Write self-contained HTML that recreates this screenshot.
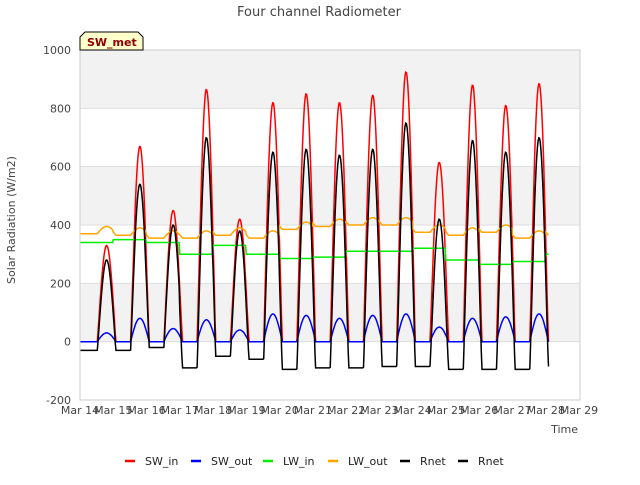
<!DOCTYPE html>
<html><head><meta charset="utf-8"><style>
body{margin:0;background:#fff;font-family:"Liberation Sans","DejaVu Sans",sans-serif}
</style></head><body>
<svg id="c" width="640" height="480" xmlns="http://www.w3.org/2000/svg" font-family="DejaVu Sans, Liberation Sans, sans-serif">
<text x="319" y="16" text-anchor="middle" font-size="13" fill="#444">Four channel Radiometer</text>
<g id="bands"></g>
<g id="grid"></g>
<g id="yt" font-size="11" fill="#444"></g>
<g id="xt" font-size="11" fill="#444"></g>
<g id="series"></g>
<rect x="80" y="50" width="500" height="350" fill="none" stroke="#ccc"/>
<text x="20" y="225" transform="rotate(-90 15 225)" text-anchor="middle" font-size="11" fill="#444">Solar Radiation (W/m2)</text>
<text x="578" y="433" text-anchor="end" font-size="11" fill="#444">Time</text>
<g><path d="M80,50 L80,37 L85,32 L138,32 L143,37 L143,50 Z" fill="#ffffcc" stroke="#000"/><text x="87" y="46" font-size="11" font-weight="bold" fill="#8b0000">SW_met</text></g>
<g id="legend" font-size="11" fill="#222"></g>
</svg>
<script>
const days=["Mar 14","Mar 15","Mar 16","Mar 17","Mar 18","Mar 19","Mar 20","Mar 21","Mar 22","Mar 23","Mar 24","Mar 25","Mar 26","Mar 27","Mar 28","Mar 29"];
const yTicks=[-200,0,200,400,600,800,1000];
const swInPeak=[330,670,450,865,420,820,850,820,845,925,615,880,810,885];
const swOutPeak=[30,80,45,75,40,95,90,80,90,95,50,80,85,95];
const lwInLevel=[340,350,340,300,330,300,285,290,310,310,320,280,265,275,300];
const lwOutLevel=[370,365,355,355,365,355,385,395,400,400,375,365,375,355,365];
const rnetPeak=[280,540,400,700,380,650,660,640,660,750,420,690,650,700];
const rnetNight=[-30,-30,-20,-90,-50,-60,-95,-90,-90,-85,-85,-95,-95,-95,-85];
const X=d=>80+d*(499/15), Y=v=>400-(v+200)*(350/1200);
const NS="http://www.w3.org/2000/svg";
function mk(tag,attrs,parent){const e=document.createElementNS(NS,tag);for(const k in attrs)e.setAttribute(k,attrs[k]);document.getElementById(parent).appendChild(e);return e;}
for(let i=0;i<yTicks.length-1;i++){const b=mk('rect',{x:80,y:Y(yTicks[i+1]),width:500,height:Y(yTicks[i])-Y(yTicks[i+1]),fill:(i%2==1)?'#f2f2f2':'#fff'},'bands');

}
yTicks.forEach(v=>{const l=mk('line',{x1:80,x2:580,y1:Y(v),y2:Y(v),stroke:'#ddd'},'grid');


const t=mk('text',{x:71,y:Y(v)+4,'text-anchor':'end'},'yt');t.textContent=v;

});
days.forEach((d,i)=>{const t=mk('text',{x:X(i),y:414,'text-anchor':'middle'},'xt');t.textContent=d;

});
const HW=0.28;
function sun(t){const d=Math.round(t-0.8);const o=t-(d+0.8);if(d<0||d>13||Math.abs(o)>=HW)return [d,0];return [d,Math.cos(Math.PI/2*o/HW)];}
function series(fn){const pts=[];for(let i=0;i<=14.1*48;i++){const t=i/48;pts.push(X(t).toFixed(1)+','+Y(fn(t)).toFixed(1));}return pts.join(' ');}
const defs=[
['sw-in-line','#ff0000',t=>{const[d,s]=sun(t);return s>0?swInPeak[d]*Math.pow(s,1.1):0;}],
['sw-out-line','#0000ff',t=>{const[d,s]=sun(t);return s>0?swOutPeak[d]*s:0;}],
['lw-in-line','#00ee00',t=>lwInLevel[Math.min(14,Math.floor(t))]],
['lw-out-line','#ffa500',t=>{const[d,s]=sun(t);return lwOutLevel[Math.min(14,Math.floor(t))]+(s>0?25*s:0);}],
['rnet-line','#000000',t=>{const[d,s]=sun(t);const n=rnetNight[Math.min(14,Math.max(0,Math.floor(t)))];return s>0?n+(rnetPeak[d]-n)*Math.pow(s,1.1):n;}]
];
defs.forEach(([n,c,fn])=>{const p=mk('polyline',{points:series(fn),fill:'none',stroke:c,'stroke-width':1.5},'series');

});
const leg=[['SW_in','#ff0000',125],['SW_out','#0000ff',191],['LW_in','#00ee00',263],['LW_out','#ffa500',328],['Rnet','#000',400],['Rnet','#000',458]];
leg.forEach(([n,c,x])=>{mk('line',{x1:x,x2:x+10,y1:461,y2:461,stroke:c,'stroke-width':2.5},'legend');
const t=mk('text',{x:x+20,y:465},'legend');t.textContent=n;

});
</script>
</body></html>
